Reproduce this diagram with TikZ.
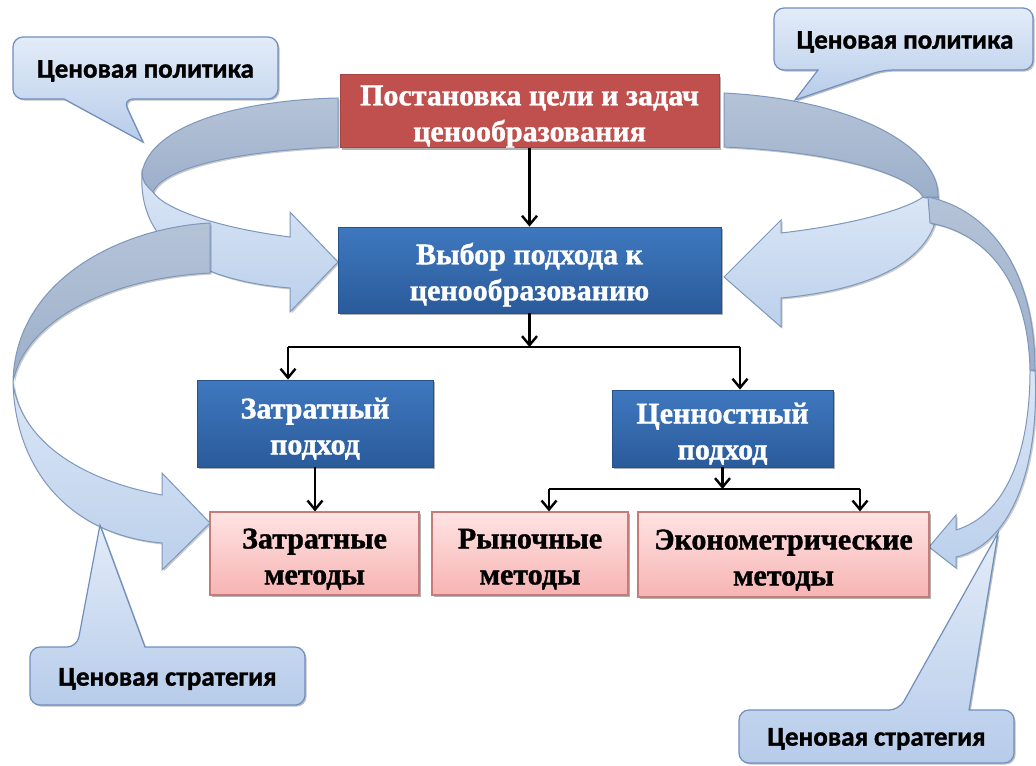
\documentclass[tikz,border=0pt]{standalone}
\usepackage{fontspec}
\setmainfont{Liberation Serif}[BoldFeatures={FakeBold=1.2}]
\newfontfamily\callfnt{Carlito}[BoldFont={Carlito Bold},BoldFeatures={FakeBold=1.2}]
\usetikzlibrary{arrows.meta,shadows,calc}
\definecolor{redfill}{HTML}{C0504D}
\definecolor{blueTop}{HTML}{3F78BF}
\definecolor{blueBot}{HTML}{2A5B9B}
\definecolor{pinkTop}{HTML}{FFE3E3}
\definecolor{pinkBot}{HTML}{F6B4B3}
\definecolor{pinkLine}{HTML}{C77B79}
\definecolor{ribLine}{HTML}{7D97BD}
\definecolor{darkTop}{HTML}{B5C3D7}
\definecolor{darkBot}{HTML}{9CAFCA}
\definecolor{lightTop}{HTML}{DAE6F5}
\definecolor{lightBot}{HTML}{BCD0EC}
\definecolor{callTop}{HTML}{E3ECF8}
\definecolor{callBot}{HTML}{B7CCEA}
\definecolor{callLine}{HTML}{6F8FBE}
\newcommand\boxfnt{\fontsize{15pt}{18pt}\selectfont\bfseries}
\newcommand\tstrut{\rule{0pt}{15.5pt}}
\begin{document}
\begin{tikzpicture}[x=0.5pt,y=-0.5pt,
  shad/.style={drop shadow={shadow xshift=1.2pt,shadow yshift=-1.2pt,opacity=0.3,fill=black}},
  mainbox/.style={align=center,font=\boxfnt,inner sep=0pt,shad},
  redbox/.style={mainbox,fill=redfill,draw=redfill!85!black,line width=0.4pt,text=white},
  bluebox/.style={mainbox,top color=blueTop,bottom color=blueBot,draw=blueBot!90!black,line width=0.4pt,text=white},
  pinkbox/.style={mainbox,top color=pinkTop,bottom color=pinkBot,draw=pinkLine,line width=0.6pt,text=black},
  ribdark/.style={draw=ribLine,line width=0.5pt,top color=darkTop,bottom color=darkBot,drop shadow={shadow xshift=0.8pt,shadow yshift=-0.8pt,opacity=0.2,fill=black}},
  riblight/.style={draw=ribLine,line width=0.5pt,top color=lightTop,bottom color=lightBot,drop shadow={shadow xshift=0.8pt,shadow yshift=-0.8pt,opacity=0.2,fill=black}},
  callout/.style={draw=callLine,line width=0.6pt,top color=callTop,bottom color=callBot,drop shadow={shadow xshift=0.8pt,shadow yshift=-0.8pt,opacity=0.25,fill=black}},
  calltext/.style={font=\callfnt\bfseries\fontsize{13.5pt}{15pt}\selectfont,text=black,inner sep=0pt},
  conn/.style={line width=1.2pt,-{Straight Barb[length=4.5pt,width=7.5pt,line width=1.2pt]}},
  plain/.style={line width=1.2pt}
]
\useasboundingbox (0,0) rectangle (1036,765);
\fill[white] (0,0) rectangle (1036,765);

% ---- left ribbons ----
\draw[riblight] (142,173) .. controls (138,240) and (190,280) .. (290,288) -- (290,312) -- (338,262) -- (290,212) -- (290,237) .. controls (220,228) and (165,210) .. (153,192) .. controls (144,183) .. (142,173) -- cycle;
\draw[ribdark] (338,98) .. controls (240,100) and (150,125) .. (142,173) .. controls (144,183) .. (153,192) .. controls (165,165) and (250,150) .. (338,147) -- cycle;
\draw[riblight] (13,382) .. controls (15,470) and (70,535) .. (162,543) -- (162,570) -- (210,523) -- (162,473) -- (162,495) .. controls (80,480) and (20,440) .. (13,382) -- cycle;
\draw[ribdark] (210,223) .. controls (120,228) and (15,280) .. (13,382) .. controls (25,320) and (110,278) .. (210,273) -- cycle;

% ---- right ribbons ----
\draw[riblight] (938,197) .. controls (942,260) and (870,290) .. (781,298) -- (781,327) -- (724,277) -- (781,220) -- (781,233) .. controls (850,225) and (905,210) .. (923,197) -- cycle;
\draw[ribdark] (724,93) .. controls (860,100) and (940,150) .. (938,197) -- (923,197) .. controls (910,175) and (840,152) .. (724,147) -- cycle;
\draw[riblight] (1035,370) .. controls (1040,470) and (1010,545) .. (956,557) -- (956,568) -- (929,547) -- (956,515) -- (956,530) .. controls (1005,515) and (1030,455) .. (1030,370) -- cycle;
\draw[ribdark] (928,197) .. controls (990,210) and (1035,270) .. (1035,370) -- (1030,370) .. controls (1028,280) and (985,233) .. (930,223) -- cycle;

% ---- callouts ----
\draw[callout,rounded corners=5pt] (13,37) -- (278,37) -- (278,99) -- (123,99) [sharp corners] -- (143,142) -- (64,99) [rounded corners=5pt] -- (13,99) -- cycle;
\node[calltext] (cpl) at (145.5,71) {Ценовая политика};
\draw[callout,rounded corners=5pt] (774,8) -- (1033,8) -- (1033,70) -- (883,70) [sharp corners] -- (795,100) -- (818,70) [rounded corners=5pt] -- (774,70) -- cycle;
\node[calltext] (cpr) at (905,42) {Ценовая политика};
\draw[callout,rounded corners=5pt] (30,647) -- (77,647) [sharp corners] -- (100,525) -- (145,647) [rounded corners=5pt] -- (305,647) -- (305,705) -- (30,705) -- cycle;
\node[calltext] (csl) at (167.5,679) {Ценовая стратегия};
\draw[callout,rounded corners=5pt] (739,710) -- (899,710) [sharp corners] -- (998,533) -- (969,710) [rounded corners=5pt] -- (1014,710) -- (1014,763) -- (739,763) -- cycle;
\node[calltext] (csr) at (876.5,739) {Ценовая стратегия};

% ---- main boxes ----
\node[redbox,minimum width=189.5pt,minimum height=36pt] (goal) at (529.5,111) {\tstrut Постановка цели и задач\\ценообразования};
\node[bluebox,minimum width=191.5pt,minimum height=43pt] (choice) at (529.5,270) {\tstrut Выбор подхода к\\ценообразованию};
\node[bluebox,minimum width=118pt,minimum height=43.5pt] (zp) at (315,423.5) {\tstrut Затратный\\подход};
\node[bluebox,minimum width=110.5pt,minimum height=38.5pt] (cp) at (722.5,428.5) {\tstrut Ценностный\\подход};
\node[pinkbox,minimum width=104.5pt,minimum height=41.5pt] (zm) at (314.5,553.5) {\tstrut Затратные\\методы};
\node[pinkbox,minimum width=98pt,minimum height=41.5pt] (rm) at (530,553.5) {\tstrut Рыночные\\методы};
\node[pinkbox,minimum width=145.5pt,minimum height=42.5pt] (em) at (783.5,554.5) {\tstrut Эконометрические\\методы};

% ---- connectors ----
\draw[conn] (goal.south) -- (choice.north);
\coordinate (j1) at (529.5,347);
\coordinate (jl) at (288,347);
\coordinate (jr) at (740,347);
\draw[conn] (choice.south) -- (j1);
\draw[plain] (jl) -- (jr);
\draw[conn] (jl) -- (jl |- zp.north);
\draw[conn] (jr) -- (jr |- cp.north);
\draw[conn] (zp.south) -- (zp.south |- zm.north);
\coordinate (j2) at (722.5,489);
\coordinate (kl) at (549,489);
\coordinate (kr) at (860,489);
\draw[conn] (cp.south) -- (j2);
\draw[plain] (kl) -- (kr);
\draw[conn] (kl) -- (kl |- rm.north);
\draw[conn] (kr) -- (kr |- em.north);
\end{tikzpicture}
\end{document}
